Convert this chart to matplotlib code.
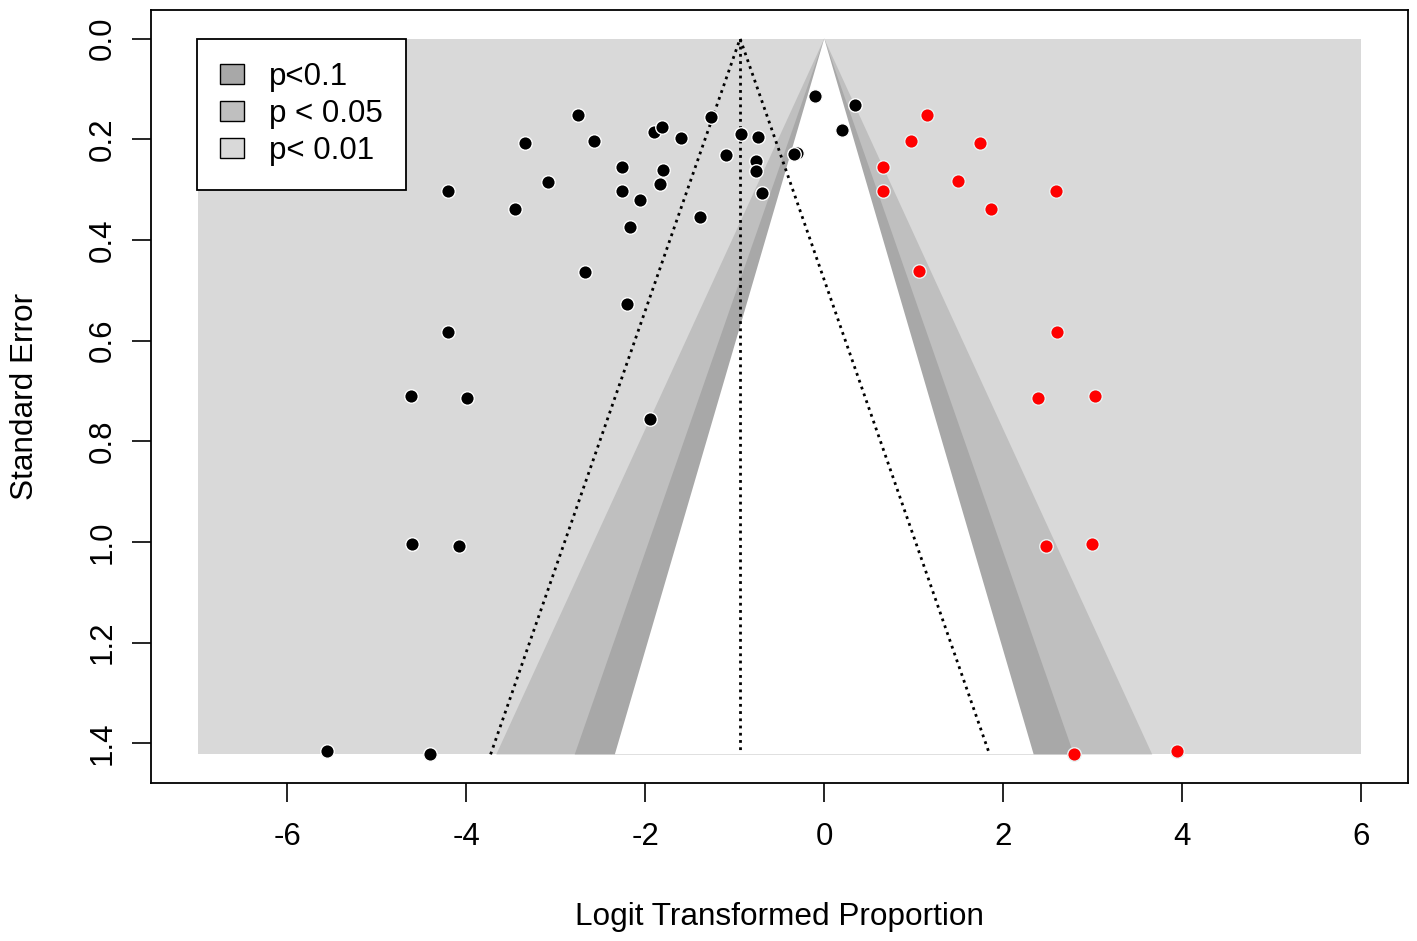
import numpy as np
import matplotlib
matplotlib.use('Agg')
import matplotlib.pyplot as plt
from matplotlib.patches import Patch

# observed studies (black): logit proportion, standard error
obs_x = [-2.75, -3.34, -2.57, -1.90, -1.81, -1.60, -1.27, -0.93, -0.74, -1.10,
         -0.76, -0.76, -0.30, -0.34, -0.10, 0.34, 0.20, -2.26, -1.80, -3.09,
         -4.20, -2.26, -1.84, -2.06, -3.46, -0.70, -1.39, -2.17, -2.67, -2.20,
         -4.20, -4.62, -3.99, -1.95, -4.60, -4.08, -5.55, -4.40]
obs_se = [0.152, 0.208, 0.204, 0.185, 0.175, 0.197, 0.155, 0.189, 0.195, 0.231,
          0.243, 0.264, 0.228, 0.229, 0.114, 0.131, 0.182, 0.255, 0.262, 0.284,
          0.303, 0.303, 0.288, 0.321, 0.338, 0.307, 0.354, 0.374, 0.463, 0.527,
          0.582, 0.711, 0.714, 0.756, 1.005, 1.009, 1.415, 1.422]

# filled studies (red)
fill_x = [1.15, 0.97, 1.74, 0.66, 0.66, 1.49, 1.86, 2.59, 1.06, 2.60,
          2.39, 3.02, 2.48, 2.99, 2.79, 3.94]
fill_se = [0.152, 0.203, 0.207, 0.256, 0.303, 0.283, 0.338, 0.303, 0.462, 0.582,
           0.714, 0.711, 1.009, 1.005, 1.422, 1.415]

estimate = -0.94
z_levels = [1.645, 1.96, 2.576]
legend_labels = ['p<0.1', 'p < 0.05', 'p< 0.01']
x_lim = (-7, 6)

col_light = '#d9d9d9'
col_mid = '#bfbfbf'
col_dark = '#a8a8a8'

plt.rcParams['font.family'] = ['Liberation Sans', 'DejaVu Sans']
plt.rcParams['axes.unicode_minus'] = False

fig = plt.figure(figsize=(14.17, 9.41), dpi=100)
ax = fig.add_axes([0.1066, 0.1679, 0.8870, 0.8215])

se_max = max(max(obs_se), max(fill_se))

# background and contour regions
ax.fill([x_lim[0], x_lim[1], x_lim[1], x_lim[0]], [0, 0, se_max, se_max],
        color=col_light, lw=0, zorder=0)
for z, c in zip(z_levels[::-1], [col_mid, col_dark, 'white']):
    ax.fill([-z * se_max, 0, z * se_max], [se_max, 0, se_max], color=c, lw=0, zorder=1)

# pseudo confidence funnel around the estimate
dots = (0, (1, 1.6))
ax.plot([estimate, estimate], [0, se_max], ls=dots, color='black', lw=2.0, zorder=2)
ax.plot([estimate - 1.96 * se_max, estimate, estimate + 1.96 * se_max], [se_max, 0, se_max],
        ls=dots, color='black', lw=2.0, zorder=2)

ax.scatter(obs_x, obs_se, s=95, color='black', edgecolor='white', linewidth=1.0, zorder=3)
ax.scatter(fill_x, fill_se, s=95, color='red', edgecolor='#e8f4f4', linewidth=1.0, zorder=3)

pad_x = 0.04 * (x_lim[1] - x_lim[0])
pad_y = 0.04 * se_max
ax.set_xlim(x_lim[0] - pad_x, x_lim[1] + pad_x)
ax.set_ylim(se_max + pad_y, -pad_y)

ax.set_xticks(np.arange(-6, 7, 2))
ax.set_yticks(np.arange(0, 1.41, 0.2))
ax.set_yticklabels(['%.1f' % v for v in np.arange(0, 1.41, 0.2)], rotation=90, va='center')
ax.tick_params(labelsize=22.5, length=14, width=1.2, pad=14)
ax.tick_params(axis='y', pad=10)
for s in ax.spines.values():
    s.set_linewidth(1.3)

ax.set_xlabel('Logit Transformed Proportion', fontsize=22.7, labelpad=36)
ax.set_ylabel('Standard Error', fontsize=22.7, labelpad=34)

handles = [Patch(facecolor=c, edgecolor='black', lw=1.0) for c in [col_dark, col_mid, col_light]]
leg = ax.legend(handles, legend_labels, loc='upper left', bbox_to_anchor=(0.0366, 0.9625),
                borderaxespad=0, fontsize=22.5, frameon=True, fancybox=False,
                edgecolor='black', framealpha=1, handlelength=0.75, handleheight=0.6,
                handletextpad=0.8, labelspacing=0.22, borderpad=0.75)
leg.get_frame().set_linewidth(1.3)

fig.savefig('out.png', dpi=100)
